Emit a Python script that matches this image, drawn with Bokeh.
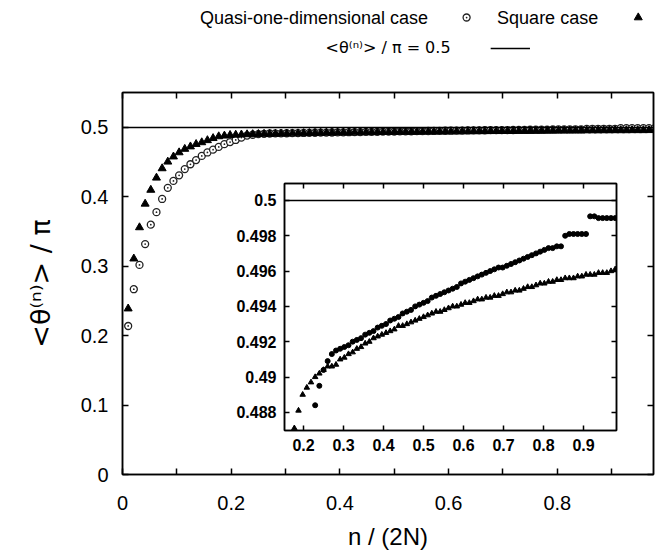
from bokeh.plotting import figure
from bokeh.models import (Range1d, FixedTicker, LinearAxis, Span, CustomJSTickFormatter, GridBox)
from bokeh.embed import file_html
from bokeh.resources import INLINE
from bokeh.core.properties import value

# ---------------- data ----------------
two_N = 96
n_values = list(range(1, 95))

quasi_1d = [
    0.214, 0.267, 0.302, 0.332, 0.360, 0.378, 0.397, 0.413, 0.423, 0.431,
    0.440, 0.447, 0.453, 0.459, 0.464, 0.468, 0.472, 0.476, 0.479, 0.482,
    0.4855, 0.4884, 0.4895, 0.4904, 0.4909, 0.4913, 0.4915, 0.4916, 0.4917, 0.4918,
    0.4920, 0.4921, 0.4922, 0.4924, 0.4925, 0.4926, 0.4928, 0.4929, 0.4930, 0.4932,
    0.4933, 0.4934, 0.4936, 0.4937, 0.4938, 0.4940, 0.4941, 0.4942, 0.4943, 0.4945,
    0.4946, 0.4947, 0.4948, 0.4949, 0.4950, 0.4951, 0.4953, 0.4954, 0.4955, 0.4956,
    0.4957, 0.4958, 0.4959, 0.4960, 0.4961, 0.4962, 0.4962, 0.4963, 0.4964, 0.4965,
    0.4966, 0.4967, 0.4968, 0.4969, 0.4970, 0.4971, 0.4972, 0.4973, 0.4973, 0.4974,
    0.4974, 0.4980, 0.4981, 0.4981, 0.4981, 0.4981, 0.4981, 0.4991, 0.4991, 0.4990,
    0.4990, 0.4990, 0.4990, 0.4990,
]

square = [
    0.239, 0.311, 0.356, 0.390, 0.410, 0.4275, 0.441, 0.4506, 0.458, 0.464,
    0.469, 0.4725, 0.476, 0.4785, 0.4815, 0.4845, 0.4871, 0.4881, 0.4890, 0.4894,
    0.4897, 0.4900, 0.4902, 0.4904, 0.4906, 0.4906, 0.4907, 0.4910, 0.4911, 0.4913,
    0.4914, 0.4916, 0.4917, 0.4919, 0.4920, 0.4922, 0.4923, 0.4924, 0.4925, 0.4926,
    0.4927, 0.4929, 0.4929, 0.4930, 0.4931, 0.4932, 0.4933, 0.4934, 0.4935, 0.4936,
    0.4937, 0.4937, 0.4938, 0.4939, 0.4940, 0.4940, 0.4941, 0.4942, 0.4942, 0.4943,
    0.4944, 0.4944, 0.4945, 0.4945, 0.4946, 0.4946, 0.4947, 0.4948, 0.4948, 0.4949,
    0.4949, 0.4950, 0.4951, 0.4951, 0.4952, 0.4953, 0.4953, 0.4954, 0.4954, 0.4955,
    0.4955, 0.4956, 0.4956, 0.4956, 0.4957, 0.4957, 0.4958, 0.4958, 0.4958, 0.4959,
    0.4959, 0.4959, 0.4960, 0.4961,
]

ref_level = 0.5
main_xticks = [0.0, 0.2, 0.4, 0.6, 0.8]
main_xminor = [0.1, 0.3, 0.5, 0.7, 0.9]
main_yticks = [0.0, 0.1, 0.2, 0.3, 0.4, 0.5]
inset_xticks = [0.2, 0.3, 0.4, 0.5, 0.6, 0.7, 0.8, 0.9]
inset_yticks = [0.488, 0.49, 0.492, 0.494, 0.496, 0.498, 0.5]

legend_labels = ["Quasi-one-dimensional case", "Square case"]
legend_ref_label = "<θ⁽ⁿ⁾> / π = 0.5"

x_vals = [n / two_N for n in n_values]

FONT = "Liberation Sans"
fmt_code = "return String(parseFloat(tick.toFixed(4)));"


def style_axis(ax, font_size, bold=False, tick_len=6, standoff=10, labels=True):
    ax.axis_line_color = "black"
    ax.axis_line_width = 1.5
    ax.major_tick_in = tick_len
    ax.major_tick_out = 0
    ax.minor_tick_in = tick_len
    ax.minor_tick_out = 0
    ax.major_tick_line_color = "black"
    ax.major_tick_line_width = 1.5
    ax.minor_tick_line_color = "black"
    ax.minor_tick_line_width = 1.5
    ax.major_label_text_font = FONT
    ax.major_label_text_font_size = font_size
    ax.major_label_text_color = "black"
    ax.major_label_text_font_style = "bold" if bold else "normal"
    ax.major_label_standoff = standoff
    if labels:
        ax.formatter = CustomJSTickFormatter(code=fmt_code)
    else:
        ax.formatter = CustomJSTickFormatter(code="return '';")


W = 662
KEY_H = 90

# ---------------- key (label first, then sample, like the original) ----------------
pk = figure(width=W, height=KEY_H, output_backend="svg", toolbar_location=None,
            x_range=Range1d(0, W), y_range=Range1d(KEY_H, 0),
            min_border=0, x_axis_location=None, y_axis_location=None)
pk.background_fill_color = "white"
pk.border_fill_color = "white"
pk.outline_line_color = None
pk.xgrid.visible = False
pk.ygrid.visible = False

pk.text(x=[381, 593], y=[17, 17], text=legend_labels, text_font=value(FONT),
        text_font_size="18px", text_align="right", text_baseline="middle", text_color="black")
pk.text(x=[409], y=[47], text=[legend_ref_label], text_font=value("DejaVu Sans"),
        text_font_size="16px", text_align="right", text_baseline="middle", text_color="black")
pk.scatter([429], [17], marker="circle_dot", size=7, line_color="#222222", fill_color="white",
           line_width=1.3)
pk.scatter([643], [17], marker="triangle", size=8, line_color="black", fill_color="black")
pk.line([459, 508], [48, 48], line_color="black", line_width=1.5)

# ---------------- main figure ----------------
p = figure(width=W, height=557 - KEY_H, output_backend="svg", toolbar_location=None,
           x_range=Range1d(0, 0.977), y_range=Range1d(0, 0.5504),
           min_border_left=122, min_border_right=9, min_border_top=92 - KEY_H, min_border_bottom=83,
           x_axis_location=None, y_axis_location=None)
p.background_fill_color = "white"
p.border_fill_color = "white"
p.outline_line_color = "black"
p.outline_line_width = 1.5
p.xgrid.visible = False
p.ygrid.visible = False

xt = FixedTicker(ticks=main_xticks, minor_ticks=main_xminor)
yt = FixedTicker(ticks=main_yticks, minor_ticks=[])

ax_b = LinearAxis(ticker=xt, axis_label="n / (2N)")
style_axis(ax_b, "20px", standoff=21)
ax_b.axis_label_text_font = FONT
ax_b.axis_label_text_font_size = "24px"
ax_b.axis_label_text_font_style = "normal"
ax_b.axis_label_text_color = "black"
ax_b.axis_label_standoff = 10
p.add_layout(ax_b, "below")

ax_t = LinearAxis(ticker=xt)
style_axis(ax_t, "1px", labels=False)
ax_t.major_label_standoff = 0
p.add_layout(ax_t, "above")

ax_l = LinearAxis(ticker=yt, axis_label="<θ⁽ⁿ⁾> / π")
style_axis(ax_l, "20px", standoff=14)
ax_l.axis_label_text_font = "DejaVu Sans"
ax_l.axis_label_text_font_size = "27px"
ax_l.axis_label_text_font_style = "normal"
ax_l.axis_label_text_color = "black"
ax_l.axis_label_standoff = 22
p.add_layout(ax_l, "left")

ax_r = LinearAxis(ticker=yt)
style_axis(ax_r, "1px", labels=False)
p.add_layout(ax_r, "right")

p.add_layout(Span(location=ref_level, dimension="width", line_color="black", line_width=1.5))

p.scatter(x_vals, quasi_1d, marker="circle_dot", size=7, line_color="#222222",
          fill_color="white", line_width=1.3)
p.scatter(x_vals, square, marker="triangle", size=8, line_color="black", fill_color="black")

# ---------------- inset figure ----------------
pin = figure(width=410, height=290, output_backend="svg", toolbar_location=None,
             x_range=Range1d(0.1525, 0.9825), y_range=Range1d(0.48697, 0.50096),
             min_border_left=64, min_border_right=14, min_border_top=13, min_border_bottom=30,
             x_axis_location=None, y_axis_location=None)
pin.background_fill_color = "white"
pin.border_fill_color = None
pin.outline_line_color = "black"
pin.outline_line_width = 1.5
pin.xgrid.visible = False
pin.ygrid.visible = False

ixt = FixedTicker(ticks=inset_xticks, minor_ticks=[])
iyt = FixedTicker(ticks=inset_yticks, minor_ticks=[])

iax_b = LinearAxis(ticker=ixt)
style_axis(iax_b, "16px", bold=True, tick_len=5, standoff=8)
pin.add_layout(iax_b, "below")
iax_t = LinearAxis(ticker=ixt)
style_axis(iax_t, "1px", tick_len=5, labels=False)
pin.add_layout(iax_t, "above")
iax_l = LinearAxis(ticker=iyt)
style_axis(iax_l, "16px", bold=True, tick_len=5, standoff=8)
pin.add_layout(iax_l, "left")
iax_r = LinearAxis(ticker=iyt)
style_axis(iax_r, "1px", tick_len=5, labels=False)
pin.add_layout(iax_r, "right")

pin.add_layout(Span(location=ref_level, dimension="width", line_color="black", line_width=1.5))
pin.scatter(x_vals, quasi_1d, marker="circle", size=5, line_color="black", fill_color="black")
pin.scatter(x_vals, square, marker="triangle", size=5.5, line_color="black", fill_color="black")

layout = GridBox(children=[(pk, 0, 0, 1, 3), (p, 1, 0, 3, 3), (pin, 2, 1, 1, 1)],
                 rows=["90px", "80px", "290px", "97px"], cols=["220px", "410px", "32px"])

open("out.html", "w").write(file_html(layout, INLINE))
